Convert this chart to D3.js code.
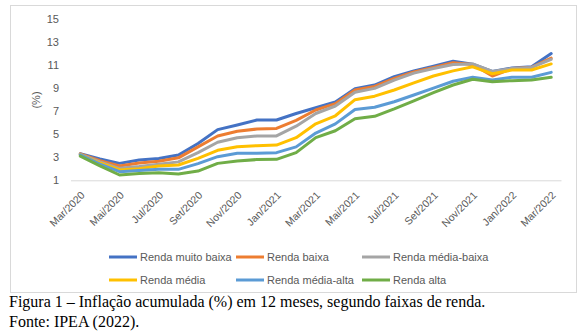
<!DOCTYPE html>
<html><head><meta charset="utf-8">
<script src="https://cdnjs.cloudflare.com/ajax/libs/d3/7.8.5/d3.min.js"></script>
<style>
html,body{margin:0;padding:0;background:#fff;}
svg{display:block;}
</style></head>
<body>
<svg id="c" width="585" height="332"></svg>
<script>
const months = ["Mar/2020","Abr/2020","Mai/2020","Jun/2020","Jul/2020","Ago/2020","Set/2020","Out/2020","Nov/2020","Dez/2020",
"Jan/2021","Fev/2021","Mar/2021","Abr/2021","Mai/2021","Jun/2021","Jul/2021","Ago/2021","Set/2021","Out/2021","Nov/2021","Dez/2021",
"Jan/2022","Fev/2022","Mar/2022"];
const xTickLabels = ["Mar/2020","Mai/2020","Jul/2020","Set/2020","Nov/2020","Jan/2021","Mar/2021","Mai/2021","Jul/2021","Set/2021","Nov/2021","Jan/2022","Mar/2022"];
const yTicks = [1,3,5,7,9,11,13,15];
const seriesNames = ["Renda muito baixa","Renda baixa","Renda média-baixa","Renda média","Renda média-alta","Renda alta"];
const seriesColors = ["#4472C4","#ED7D31","#A5A5A5","#FFC000","#5B9BD5","#70AD47"];
const rendaMuitoBaixa = [3.3,2.85,2.47,2.76,2.9,3.2,4.2,5.4,5.8,6.23,6.23,6.8,7.3,7.8,8.95,9.27,10.0,10.5,10.9,11.33,11.07,10.45,10.75,10.86,12.0];
const rendaBaixa      = [3.3,2.7,2.24,2.5,2.65,2.95,3.9,4.85,5.25,5.45,5.5,6.2,7.1,7.65,8.85,9.15,9.85,10.4,10.8,11.2,11.05,10.05,10.7,10.8,11.6];
const rendaMediaBaixa = [3.25,2.6,2.04,2.2,2.4,2.6,3.4,4.3,4.7,4.85,4.85,5.7,6.8,7.45,8.65,8.98,9.7,10.3,10.7,11.05,11.1,10.45,10.7,10.8,11.5];
const rendaMedia      = [3.2,2.5,1.9,2.0,2.24,2.33,2.9,3.6,3.92,4.0,4.06,4.7,5.9,6.6,8.0,8.3,8.84,9.45,10.05,10.5,10.85,10.25,10.57,10.57,11.1];
const rendaMediaAlta  = [3.2,2.4,1.75,1.85,1.95,1.95,2.45,3.05,3.34,3.34,3.4,3.9,5.1,5.9,7.15,7.34,7.82,8.4,9.0,9.6,9.94,9.7,9.94,9.94,10.37];
const rendaAlta       = [3.1,2.25,1.46,1.6,1.65,1.55,1.8,2.47,2.68,2.8,2.82,3.4,4.7,5.3,6.35,6.55,7.2,7.9,8.6,9.27,9.77,9.56,9.65,9.7,9.94];
const seriesValues = [rendaMuitoBaixa,rendaBaixa,rendaMediaBaixa,rendaMedia,rendaMediaAlta,rendaAlta];
const yLabel = "(%)";
const caption1 = "Figura 1 – Inflação acumulada (%) em 12 meses, segundo faixas de renda.";
const caption2 = "Fonte: IPEA (2022).";

const svg = d3.select("#c");
const font = "'Liberation Sans', Arial, sans-serif";
const txtColor = "#595959";

// chart border
svg.append("rect").attr("x",10.5).attr("y",5.5).attr("width",566).attr("height",287)
  .attr("fill","#fff").attr("stroke","#d9d9d9").attr("stroke-width",1);

const x = d3.scalePoint().domain(months).range([70.5,561]).padding(0.5);
const y = d3.scaleLinear().domain([1,15]).range([180.3,19]);

// y axis labels
const yAxis = d3.axisLeft(y).tickValues(yTicks).tickSize(0).tickPadding(0);
const gy = svg.append("g").attr("transform","translate(59,0)").call(yAxis);
gy.select(".domain").remove();
gy.selectAll("text").attr("font-family",font).attr("font-size",11).attr("fill",txtColor);

// x axis
const xAxis = d3.axisBottom(x).tickValues(xTickLabels).tickSize(0).tickSizeOuter(0);
const gx = svg.append("g").attr("transform",`translate(0,${y(1)})`).call(xAxis);
gx.select(".domain").attr("stroke","#d9d9d9").attr("stroke-width",1);
gx.selectAll("text").attr("font-family",font).attr("font-size",10.5).attr("fill",txtColor)
  .attr("text-anchor","end").attr("x",0).attr("y",0).attr("dy","0.35em")
  .attr("transform","translate(2,13) rotate(-45)");

// y label
svg.append("text").attr("transform","translate(36,100) rotate(-90)")
  .attr("text-anchor","middle").attr("dy","0.35em")
  .attr("font-family",font).attr("font-size",11).attr("fill",txtColor).text(yLabel);

// lines
const line = d3.line().x((d,i)=>x(months[i])).y(d=>y(d));
seriesValues.forEach((vals,k)=>{
  svg.append("path").datum(vals).attr("d",line).attr("fill","none")
    .attr("stroke",seriesColors[k]).attr("stroke-width",3).attr("stroke-linejoin","round").attr("stroke-linecap","round");
});

// legend
const legX = [109,236,362];
const legY = [257,280];
seriesNames.forEach((n,k)=>{
  const cx = legX[k%3], cy = legY[Math.floor(k/3)];
  svg.append("line").attr("x1",cx).attr("x2",cx+28).attr("y1",cy).attr("y2",cy)
    .attr("stroke",seriesColors[k]).attr("stroke-width",3);
  svg.append("text").attr("x",cx+31).attr("y",cy).attr("dy","0.35em")
    .attr("font-family",font).attr("font-size",11).attr("fill",txtColor).text(n);
});

// caption
const serif = "'Liberation Serif','Times New Roman',serif";
svg.append("text").attr("x",9).attr("y",307).attr("font-family",serif)
  .attr("font-size",16).attr("fill","#000").text(caption1);
svg.append("text").attr("x",9).attr("y",327).attr("font-family",serif)
  .attr("font-size",16).attr("fill","#000").text(caption2);
</script>
</body></html>
